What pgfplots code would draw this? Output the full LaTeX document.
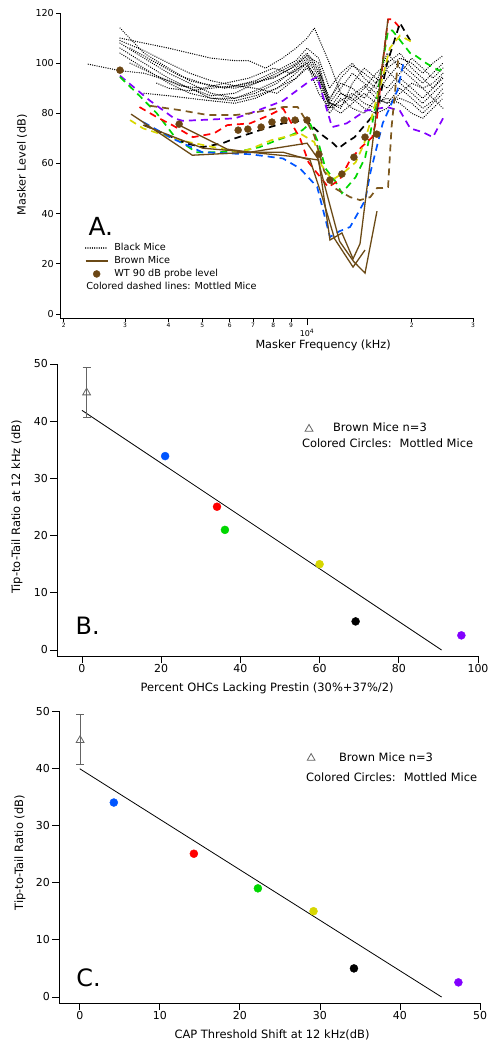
\documentclass[border=0pt]{standalone}
\usepackage{fontspec}
\setmainfont{DejaVu Sans}
\usepackage{pgfplots}
\pgfplotsset{compat=1.18}
\definecolor{mblue}{RGB}{0,85,255}
\definecolor{mred}{RGB}{255,0,0}
\definecolor{mgreen}{RGB}{0,215,0}
\definecolor{myellow}{RGB}{215,215,0}
\definecolor{mpurple}{RGB}{130,0,255}
\definecolor{mbrown}{RGB}{107,74,22}
\definecolor{mbrowndash}{RGB}{125,88,30}
\definecolor{wtbrown}{RGB}{107,70,20}
\definecolor{trigray}{RGB}{100,100,100}
\pgfplotsset{
  every axis/.append style={
    scale only axis, axis x line*=bottom, axis y line*=left, tick align=outside,
    axis line style={line width=0.8bp}, every tick/.style={line width=0.8bp, black},
    /pgf/number format/assume math mode=true, clip=false,
  },
  blackdot/.style={black, line width=1.35bp, line cap=round, dash pattern=on 0.05bp off 2.2bp, forget plot},
  brownsolid/.style={mbrown, line width=1.3bp, forget plot},
  mdash/.style={line width=1.7bp, dash pattern=on 7bp off 5bp, forget plot},
  shortline legend/.style={legend image code/.code={\draw[##1] (0bp,0bp) -- (22bp,0bp);}},
  dot legend/.style={legend image code/.code={\path[draw=none,fill=none] (0bp,0bp) -- (22bp,0bp); \path[##1] plot[only marks] coordinates {(11bp,0bp)};}},
  triB legend/.style={legend image code/.code={\path[draw=none,fill=none] (0bp,0bp) -- (14bp,0bp); \path[##1] plot[only marks] coordinates {(7bp,0bp)};}},
  triC legend/.style={legend image code/.code={\path[draw=none,fill=none] (0bp,0bp) -- (10bp,0bp); \path[##1] plot[only marks] coordinates {(5bp,0bp)};}},
}
\begin{document}
\begin{tikzpicture}
\path[use as bounding box] (0bp,0bp) rectangle (498bp,-1050bp);
% ---------------- Panel A ----------------
\begin{axis}[
  at={(60bp,-318bp)}, anchor=south west, width=413bp, height=305bp,
  xmode=log, xmin=1950, xmax=30000, ymin=-1.6, ymax=120,
  xminorticks=false, yminorticks=false,
  xtick={2000,3000,4000,5000,6000,7000,8000,9000,20000,30000},
  xticklabels={2,3,4,5,6,7,8,9,2,3},
  extra x ticks={10000}, extra x tick labels={10\textsuperscript{4}},
  extra x tick style={major tick length=7bp, xticklabel style={font=\fontsize{8}{9}\selectfont, yshift=-3bp}},
  major tick length=4bp,
  ytick={0,20,40,60,80,100,120},
  yticklabel style={font=\fontsize{9.6}{11}\selectfont, inner sep=2bp},
  xticklabel style={font=\fontsize{6}{7}\selectfont, inner sep=1bp},
  xlabel={Masker Frequency (kHz)}, ylabel={Masker Level (dB)},
  xlabel style={at={(rel axis cs:0.637,-0.0885)}, anchor=center, font=\fontsize{11.3}{13}\selectfont},
  ylabel style={at={(rel axis cs:-0.092,0.502)}, anchor=center, font=\fontsize{11.3}{13}\selectfont},
  legend cell align=left,
  legend style={draw=none, fill=none, at={(rel axis cs:0.0605,0.251)}, anchor=north west,
    inner sep=0pt, outer sep=0pt, row sep=0pt,
    nodes={inner sep=1.5bp, text height=7.5bp, text depth=2.5bp, font=\fontsize{9.7}{11}\selectfont},
    /tikz/every odd column/.append style={column sep=4.5bp}},
]
% Black mice (dotted)
\addplot[blackdot] coordinates {(2900,114) (3400,104) (4000,98) (4600,93) (5300,91) (6200,90) (7100,92) (8200,96) (9300,100) (10000,104) (10800,98) (11600,84) (12500,90) (13500,96) (14600,92) (15800,88) (17000,94) (18500,100) (20000,96) (21500,92) (23000,96) (24600,100)};
\addplot[blackdot] coordinates {(2900,110) (3400,108) (4000,106) (4600,104) (5300,102) (6200,101) (6800,101) (7600,98) (8500,102) (9300,106) (10000,110) (10500,114) (11600,100) (12500,88) (13500,85) (14600,90) (15800,96) (17000,100) (18500,104) (20000,98) (21500,94) (23000,90) (24600,95)};
\addplot[blackdot] coordinates {(2900,108) (3400,102) (4000,96) (4600,92) (5300,88) (6200,86) (7100,88) (8200,92) (9300,98) (10000,102) (10800,96) (11600,82) (12500,85) (13500,88) (14600,84) (15800,82) (17000,88) (18500,94) (20000,90) (21500,86) (23000,90) (24600,94)};
\addplot[blackdot] coordinates {(2900,106) (3400,100) (4000,94) (4600,90) (5300,87) (6200,88) (7100,92) (8200,95) (9300,99) (10000,103) (10800,100) (11600,84) (12500,82) (13500,92) (14600,98) (15800,94) (17000,90) (18500,96) (20000,102) (21500,98) (23000,94) (24600,98)};
\addplot[blackdot] coordinates {(2900,104) (3400,98) (4000,92) (4600,88) (5300,86) (6200,85) (7100,87) (8200,90) (9300,96) (10000,100) (10800,92) (11600,80) (12500,86) (13500,82) (14600,80) (15800,86) (17000,84) (18500,90) (20000,86) (21500,82) (23000,85) (24600,90)};
\addplot[blackdot] coordinates {(2350,99.6) (2900,97) (3400,96) (4000,93) (4600,90) (5300,86) (6200,86) (7100,89) (8200,93) (9300,97) (10000,101) (10800,95) (11600,85) (12500,94) (13500,99) (14600,96) (15800,92) (17000,97) (18500,92) (20000,88) (21500,84) (23000,88) (24600,92)};
\addplot[blackdot] coordinates {(3400,88) (4000,87) (4600,86) (5300,85) (6200,84) (7100,86) (8200,90) (9300,94) (10000,98) (10800,93) (11600,83) (12500,80) (13500,84) (14600,88) (15800,84) (17000,86) (18500,84) (20000,80) (21500,78) (23000,82) (24600,86)};
\addplot[blackdot] coordinates {(3700,92) (4000,90) (4600,89) (5300,90) (6200,91) (7100,93) (8200,97) (9300,101) (10000,106) (10800,102) (11600,90) (12500,96) (13500,100) (14600,94) (15800,90) (17000,98) (18500,102) (20000,100) (21500,96) (23000,100) (24600,103)};
\addplot[blackdot] coordinates {(3100,100) (3700,95) (4300,91) (5000,90) (5800,92) (6800,94) (8000,98) (9000,96) (10000,100) (10800,88) (11600,82) (12500,88) (13500,86) (14600,82) (15800,80) (17000,82) (18500,88) (20000,92) (21500,90) (23000,86) (24600,82)};
\addplot[blackdot] coordinates {(3100,106) (3700,100) (4300,95) (5000,92) (5800,90) (6800,92) (8000,94) (9000,98) (10000,103) (10800,97) (11600,86) (12500,92) (13500,90) (14600,86) (15800,92) (17000,104) (18500,98) (20000,94) (21500,90) (23000,92) (24600,96)};
\addplot[blackdot] coordinates {(2900,109) (3400,105) (4000,100) (4600,96) (5300,93) (6200,91) (7100,90) (8200,88) (9300,94) (10000,99) (10800,94) (11600,84) (12500,83) (13500,87) (14600,91) (15800,86) (17000,84) (18500,86) (20000,84) (21500,80) (23000,84) (24600,88)};
% Mottled mice (coloured dashed)
\addplot[mdash, mpurple] coordinates {(2900,95) (3540,85) (4150,78) (4400,77) (6200,78) (6860,80) (8530,85) (10200,93) (10700,94.5) (11800,74.5) (13000,76) (14700,81) (17000,82.5) (18500,81) (19800,74) (21500,72.5) (23000,70.5) (24600,78)};
\addplot[mdash, mgreen] coordinates {(2900,94.5) (3300,87) (3700,80) (4200,70) (4800,64.5) (5500,64.5) (6500,65) (7300,66.5) (8200,69.3) (9000,71.3) (9700,73.3) (10200,76) (10800,68) (11300,58) (12000,53.4) (12600,48.2) (13800,54.6) (14700,62.5) (15200,72) (15800,84) (16500,100) (17100,113) (17600,113) (19800,104) (20500,103) (22000,100) (23000,98.4) (24000,97) (24600,98.5)};
\addplot[mdash, mred] coordinates {(3300,82.5) (3700,78.5) (4100,75.3) (4700,70.5) (5400,72) (5900,75.3) (6860,76) (7800,79.3) (8530,82) (9550,70) (10100,60.5) (11500,50.6) (12400,53.4) (13300,61.4) (14200,66) (15400,70.5) (15900,78.5) (16500,100) (17100,117.5) (17600,117.5) (18800,113)};
\addplot[mdash, black] coordinates {(3400,75.3) (3800,72.5) (4500,68) (5000,66.5) (5700,68) (6200,70) (7600,74) (8530,76) (9900,77.3) (10900,72) (11900,68) (12300,66) (13000,68.5) (13700,70.5) (15900,81) (17000,100) (18500,116) (19800,109)};
\addplot[mdash, myellow] coordinates {(3100,77.3) (3380,74) (4300,69.3) (6340,64.5) (6860,65.7) (7900,69.3) (9550,72) (10500,68.5) (11000,59.4) (11800,53.4) (12700,56.2) (13800,60.5) (14600,68) (15200,76.5) (16500,94.4) (17300,106) (18500,111) (20300,108)};
\addplot[mdash, mblue] coordinates {(3380,76.5) (4100,70) (5000,64.5) (6000,64) (6860,63.7) (8530,62) (9550,58) (10700,50.6) (11640,30.7) (12400,33) (13300,34.7) (14700,45.4) (15200,56.2) (16500,76) (18200,89.2) (19000,101)};
\addplot[mdash, mbrowndash] coordinates {(3540,83) (4300,81.3) (5200,79.3) (6200,79.3) (6860,80) (8530,82.5) (9400,82.5) (10000,76.5) (10500,71) (11200,57) (12000,50.2) (13300,46.6) (14200,45.4) (15200,46.6) (15900,50.2) (16500,50.2) (17100,50.6) (17500,74.5) (18300,102)};
% Brown mice (solid)
\addplot[brownsolid] coordinates {(3120,79.7) (4680,63.3) (6860,64.5) (10000,68.1) (10800,61.5) (11640,29.5) (12600,32.3) (13560,22) (14200,28) (17090,117.5)};
\addplot[brownsolid] coordinates {(3380,75.3) (5020,66.1) (6860,64.5) (8530,64.5) (10200,61.4) (11040,47) (12000,30) (13560,18.7) (14680,25.5)};
\addplot[brownsolid] coordinates {(4230,75.7) (5900,65.7) (6860,64.5) (9550,62.5) (10760,61.4) (11300,50) (12400,29) (13600,21) (14680,16.3) (15890,41)};
% WT probe level
\addplot[only marks, mark=*, mark size=3.5bp, wtbrown, forget plot] coordinates {(2900,97.2) (4290,75.7) (6340,73.3) (6760,73.7) (7380,74.5) (7930,76.5) (8590,77.3) (9240,77.3) (10000,77.3) (10820,63.7) (11640,53.4) (12600,55.8) (13640,62.5) (14680,70.5) (15870,71.7)};
\addlegendimage{shortline legend, black, line width=1.35bp, line cap=round, dash pattern=on 0.05bp off 2.2bp}
\addlegendimage{shortline legend, mbrown, line width=1.3bp}
\addlegendimage{only marks, mark=*, mark size=3.5bp, wtbrown, dot legend}
\addlegendimage{empty legend}
\legend{Black Mice, Brown Mice, WT 90 dB probe level, {\hspace*{-28bp}Colored dashed lines: Mottled Mice}}
\node[anchor=base west, font=\fontsize{25}{25}\selectfont] at (rel axis cs:0.0605,0.272) {A.};
\end{axis}
% ---------------- Panel B ----------------
\begin{axis}[
  at={(57bp,-656bp)}, anchor=south west, width=421bp, height=292bp,
  xmin=-6.3, xmax=100, ymin=-1.05, ymax=50,
  xtick={0,20,40,60,80,100}, ytick={0,10,20,30,40,50},
  major tick length=6.5bp,
  yticklabel style={font=\fontsize{11}{13}\selectfont, inner sep=2.5bp},
  xticklabel style={font=\fontsize{11}{13}\selectfont, inner sep=2bp},
  xlabel={Percent OHCs Lacking Prestin (30\%+37\%/2)}, ylabel={Tip-to-Tail Ratio at 12 kHz (dB)},
  xlabel style={at={(rel axis cs:0.499,-0.11)}, anchor=center, font=\fontsize{11.5}{13}\selectfont},
  ylabel style={at={(rel axis cs:-0.095,0.51)}, anchor=center, font=\fontsize{11.5}{13}\selectfont},
  legend cell align=left,
  legend style={draw=none, fill=none, at={(rel axis cs:0.582,0.805)}, anchor=north west,
    inner sep=0pt, outer sep=0pt, row sep=0pt,
    nodes={inner sep=2bp, text height=9bp, text depth=3bp, font=\fontsize{11.5}{13}\selectfont},
    /tikz/every odd column/.append style={column sep=15bp}},
]
\addplot[black, line width=0.8bp, forget plot] coordinates {(0,41.9) (90.8,0)};
\addplot[trigray, line width=0.8bp, only marks, mark=triangle, mark size=4.5bp, forget plot,
  error bars/.cd, y dir=both, y explicit, error bar style={trigray, line width=0.8bp},
  error mark options={rotate=90, mark size=4bp, trigray, line width=0.8bp}]
  coordinates {(1.18,45.0) += (0,4.4) -= (0,4.3)};
\addplot[only marks, mark=*, mark size=4bp, mblue, forget plot] coordinates {(21.0,33.9)};
\addplot[only marks, mark=*, mark size=4bp, mred, forget plot] coordinates {(34.1,25.05)};
\addplot[only marks, mark=*, mark size=4bp, mgreen, forget plot] coordinates {(36.1,21.0)};
\addplot[only marks, mark=*, mark size=4bp, myellow, forget plot] coordinates {(60.0,15.0)};
\addplot[only marks, mark=*, mark size=4bp, black, forget plot] coordinates {(69.1,5.0)};
\addplot[only marks, mark=*, mark size=4bp, mpurple, forget plot] coordinates {(95.8,2.56)};
\addlegendimage{only marks, mark=triangle, mark size=4.5bp, trigray, line width=0.8bp, triB legend}
\addlegendimage{empty legend}
\legend{Brown Mice n=3, {\hspace*{-31bp}Colored Circles:\hspace{0.7em}Mottled Mice}}
\node[anchor=base west, font=\fontsize{24}{24}\selectfont] at (rel axis cs:0.036,0.072) {B.};
\end{axis}
% ---------------- Panel C ----------------
\begin{axis}[
  at={(59bp,-1003bp)}, anchor=south west, width=421bp, height=292bp,
  xmin=-2.6, xmax=50, ymin=-1.05, ymax=50,
  xtick={0,10,20,30,40,50}, ytick={0,10,20,30,40,50},
  major tick length=6.5bp,
  yticklabel style={font=\fontsize{11}{13}\selectfont, inner sep=2.5bp},
  xticklabel style={font=\fontsize{11}{13}\selectfont, inner sep=2bp},
  xlabel={CAP Threshold Shift at 12 kHz(dB)}, ylabel={Tip-to-Tail Ratio (dB)},
  xlabel style={at={(rel axis cs:0.506,-0.11)}, anchor=center, font=\fontsize{11.5}{13}\selectfont},
  ylabel style={at={(rel axis cs:-0.093,0.514)}, anchor=center, font=\fontsize{11.5}{13}\selectfont},
  legend cell align=left,
  legend style={draw=none, fill=none, at={(rel axis cs:0.587,0.873)}, anchor=north west,
    inner sep=0pt, outer sep=0pt, row sep=0pt,
    nodes={inner sep=4bp, text height=9bp, text depth=3bp, font=\fontsize{11.5}{13}\selectfont},
    /tikz/every odd column/.append style={column sep=19bp}},
]
\addplot[black, line width=0.8bp, forget plot] coordinates {(0,39.9) (45.2,0)};
\addplot[trigray, line width=0.8bp, only marks, mark=triangle, mark size=4.5bp, forget plot,
  error bars/.cd, y dir=both, y explicit, error bar style={trigray, line width=0.8bp},
  error mark options={rotate=90, mark size=4bp, trigray, line width=0.8bp}]
  coordinates {(0.04,44.9) += (0,4.5) -= (0,4.2)};
\addplot[only marks, mark=*, mark size=4bp, mblue, forget plot] coordinates {(4.25,34.0)};
\addplot[only marks, mark=*, mark size=4bp, mred, forget plot] coordinates {(14.25,25.05)};
\addplot[only marks, mark=*, mark size=4bp, mgreen, forget plot] coordinates {(22.25,19.0)};
\addplot[only marks, mark=*, mark size=4bp, myellow, forget plot] coordinates {(29.2,15.0)};
\addplot[only marks, mark=*, mark size=4bp, black, forget plot] coordinates {(34.25,5.0)};
\addplot[only marks, mark=*, mark size=4bp, mpurple, forget plot] coordinates {(47.3,2.56)};
\addlegendimage{only marks, mark=triangle, mark size=4.5bp, trigray, line width=0.8bp, triC legend}
\addlegendimage{empty legend}
\legend{Brown Mice n=3, {\hspace*{-33bp}Colored Circles:\hspace{0.7em}Mottled Mice}}
\node[anchor=base west, font=\fontsize{24}{24}\selectfont] at (rel axis cs:0.033,0.055) {C.};
\end{axis}
\end{tikzpicture}
\end{document}
